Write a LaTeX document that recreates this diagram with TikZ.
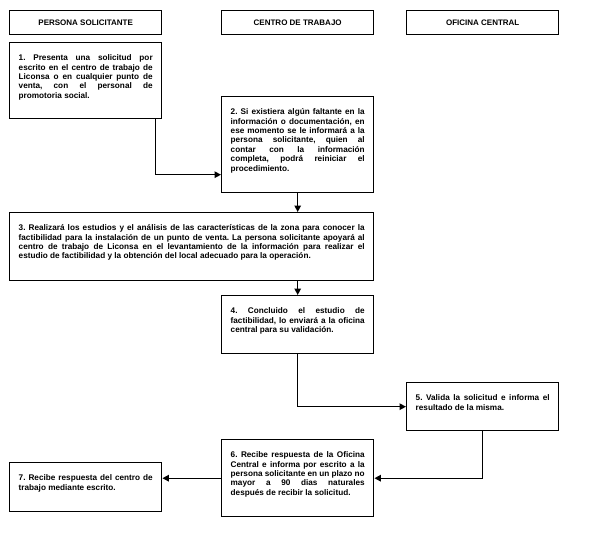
\documentclass[tikz,border=0pt]{standalone}
\usepackage{fontspec}
\setmainfont{Liberation Sans}
\usetikzlibrary{arrows.meta}

% text block of a step: width, height, text (justified, top aligned)
\newcommand{\steptext}[3]{\parbox[c][#2][t]{#1}{\frenchspacing\hyphenpenalty=10000
  \tolerance=9999\hbadness=10000 #3}}

\begin{document}
\begin{tikzpicture}[
  x=1pt, y=-1pt,
  font=\bfseries\fontsize{8.2}{9.4}\selectfont,
  lanehead/.style={draw, line width=1.4pt, anchor=north west, minimum width=152pt,
    minimum height=24pt, inner sep=0pt, font=\bfseries\fontsize{8}{10}\selectfont},
  stepbox/.style={draw, line width=1.4pt, anchor=north west, inner xsep=9pt, inner ysep=12pt},
  flow/.style={line width=1.4pt, -{Triangle[length=6.5pt, width=6.5pt]}},
]
\useasboundingbox (0,0) rectangle (589,533);

% =====================================================================
% lane headers
% =====================================================================
\node[lanehead] (hPS) at (9,10)   {PERSONA SOLICITANTE};
\node[lanehead] (hCT) at (221,10) {CENTRO DE TRABAJO};
\node[lanehead] (hOC) at (406,10) {OFICINA CENTRAL};

% =====================================================================
% steps
% =====================================================================
\node[stepbox] (s1) at (9,42) {\steptext{134pt}{52pt}{1. Presenta una solicitud por\linebreak
  escrito en el centro de trabajo de\linebreak Liconsa o en cualquier punto de\linebreak venta, con el
  personal de\linebreak promotoria social.}};

\node[stepbox] (s2) at (221,96) {\steptext{134pt}{72pt}{2. Si existiera algún faltante
  en la\linebreak información o documentación, en\linebreak ese momento se le informará a la\linebreak persona
  solicitante, quien al\linebreak contar con la información\linebreak completa, podrá reiniciar el\linebreak
  procedimiento.}};

\node[stepbox] (s3) at (9,212) {\steptext{346pt}{44pt}{3. Realizará los estudios y el
  análisis de las características de la zona para conocer la\linebreak factibilidad para la
  instalación de un punto de venta. La persona solicitante apoyará al\linebreak centro de trabajo
  de Liconsa en el levantamiento de la información para realizar el\linebreak estudio de
  factibilidad y la obtención del local adecuado para la operación.}};

\node[stepbox] (s4) at (221,295) {\steptext{134pt}{34pt}{4. Concluido el estudio de\linebreak
  factibilidad, lo enviará a la oficina\linebreak central para su validación.}};

\node[stepbox] (s5) at (406,382) {\steptext{134pt}{24pt}{5. Valida la solicitud e
  informa el\linebreak resultado de la misma.}};

\node[stepbox] (s6) at (221,439) {\steptext{134pt}{53pt}{6. Recibe respuesta de la
  Oficina\linebreak Central e informa por escrito a la\linebreak persona solicitante en un plazo no\linebreak mayor
  a 90 dias naturales\linebreak después de recibir la solicitud.}};

\node[stepbox] (s7) at (9,462) {\steptext{134pt}{25pt}{7. Recibe respuesta del centro
  de\linebreak trabajo mediante escrito.}};

% =====================================================================
% connectors
% =====================================================================
\draw[flow] ([xshift=-7pt]s1.south east) |- ([yshift=-30pt]s2.west);
\draw[flow] (s2.south) -- (s2.south |- s3.north);
\draw[flow] (s4.north |- s3.south) -- (s4.north);
\draw[flow] (s4.south) |- (s5.west);
\draw[flow] (s5.south) |- (s6.east);
\draw[flow] (s6.west) -- (s6.west -| s7.east);

\end{tikzpicture}
\end{document}
